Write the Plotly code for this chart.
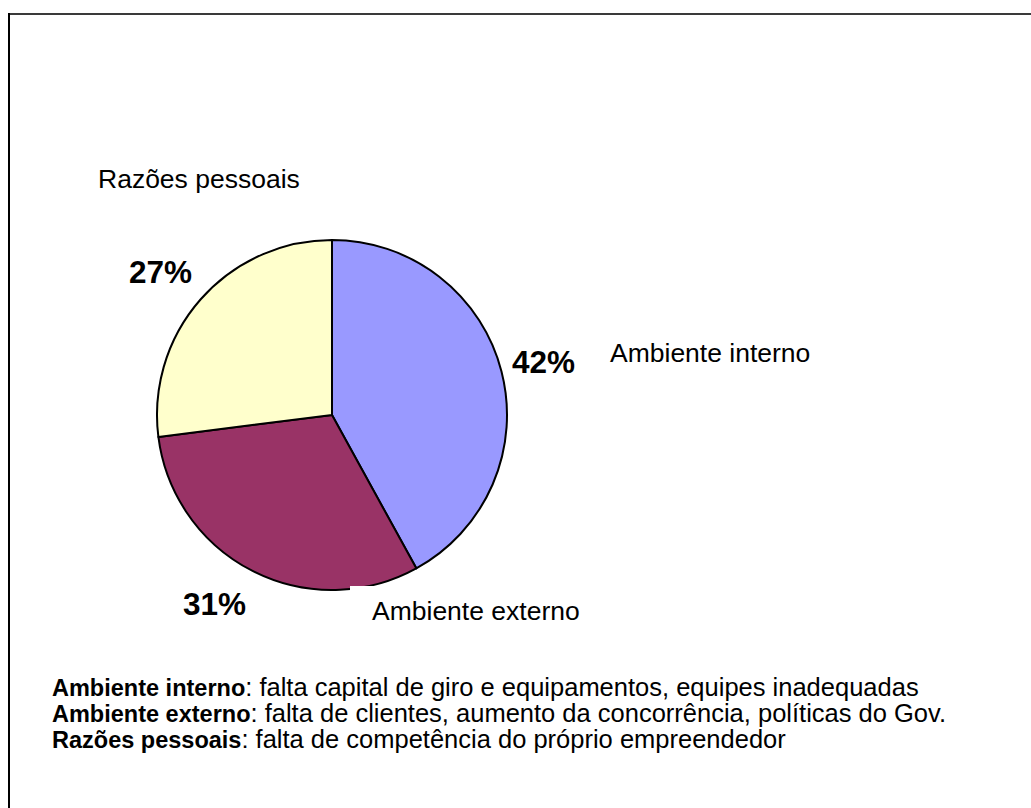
import plotly.graph_objects as go

# Slice data (clockwise from 12 o'clock)
categories = ["Ambiente interno", "Ambiente externo", "Razões pessoais"]
shares = [42, 31, 27]
slice_colors = ["#9999FF", "#993366", "#FFFFCC"]

# Explanatory notes shown under the pie
note_titles = ["Ambiente interno", "Ambiente externo", "Razões pessoais"]
note_texts = [
    ": falta capital de giro e equipamentos, equipes inadequadas",
    ": falta de clientes, aumento da concorrência, políticas do Gov.",
    ": falta de competência do próprio empreendedor",
]

W, H = 1031, 808
FONT = "Liberation Sans, Arial, sans-serif"

# pie box in pixels
px0, px1, py0, py1 = 157, 507, 240, 590

fig = go.Figure()
fig.add_trace(go.Pie(
    labels=categories,
    values=shares,
    sort=False,
    direction="clockwise",
    rotation=0,
    marker=dict(colors=slice_colors, line=dict(color="black", width=2)),
    textinfo="none",
    hoverinfo="skip",
    showlegend=False,
    domain=dict(x=[px0 / W, px1 / W], y=[1 - py1 / H, 1 - py0 / H]),
))

annotations = []

def label(text, x, y, size, bold=False):
    annotations.append(dict(
        x=x, y=y, xref="x", yref="y", text=f"<b>{text}</b>" if bold else text,
        showarrow=False, xanchor="left", yanchor="middle",
        font=dict(family=FONT, size=size, color="black"),
    ))

# category names beside the pie
label(categories[2], 96, 179, 26.5)
label(categories[0], 608, 353, 26.5)
label(categories[1], 370, 611, 26.5)

# percentage labels
label(f"{shares[2]}%", 127, 272, 31.5, bold=True)
label(f"{shares[0]}%", 510, 362, 31.5, bold=True)
label(f"{shares[1]}%", 181, 604, 31.5, bold=True)

# notes: bold heading followed by description
for i, (t, d) in enumerate(zip(note_titles, note_texts)):
    label(f"<b>{t}</b><span style='font-size:25.5px'>{d}</span>",
          50, 687 + 26 * i, 23.5)

shapes = [
    # frame lines
    dict(type="line", xref="x", yref="y", x0=8, x1=W, y0=14, y1=14,
         line=dict(color="#3a3a3a", width=2)),
    dict(type="line", xref="x", yref="y", x0=9, x1=9, y0=13, y1=H,
         line=dict(color="black", width=2)),
    # label backdrop under the pie's bottom edge
    dict(type="rect", xref="x", yref="y", x0=350, x1=420, y0=586, y1=600,
         fillcolor="white", line=dict(width=0), layer="above"),
]

fig.update_layout(
    width=W, height=H,
    margin=dict(l=0, r=0, t=0, b=0),
    paper_bgcolor="white", plot_bgcolor="white",
    xaxis=dict(range=[0, W], visible=False, fixedrange=True),
    yaxis=dict(range=[H, 0], visible=False, fixedrange=True),
    annotations=annotations,
    shapes=shapes,
)

fig.write_html("out.html")
